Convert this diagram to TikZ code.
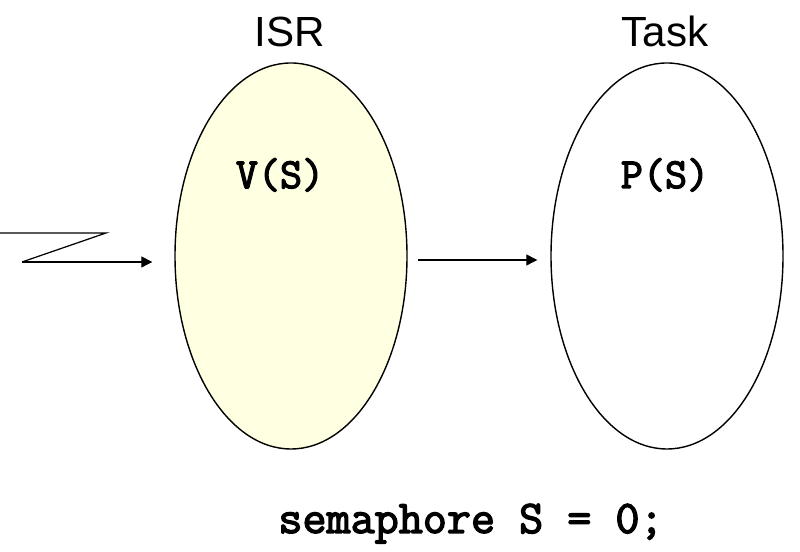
\documentclass[tikz,border=0pt]{standalone}
\usepackage{fontspec}
\setmainfont{Liberation Sans}
\newfontfamily\codefont[FakeBold=3]{Latin Modern Mono}
\usetikzlibrary{%
  arrows.meta,%
  shapes,%
  positioning,% wg. " of "
  calc
}
\definecolor{isryellow}{RGB}{255,255,226}

\begin{document}
\begin{tikzpicture}[
  >={Triangle[length=2.2mm,width=2.2mm]}, line width=0.7pt,
  proc/.style={ellipse, minimum width=4.64cm, minimum height=7.72cm, draw=black, line width=0.8pt, inner sep=0pt},
  title/.style={font=\fontsize{24}{28}\selectfont, anchor=base},
  code/.style={font=\codefont\fontsize{24.4}{28}\selectfont, anchor=base}
]
\useasboundingbox (0,0) rectangle (16,11.04);

\node[proc, fill=isryellow] (isr) at (5.82,5.92) {};
\node[proc] (task) at (13.34,5.92) {};

\node[title] (isrlabel) at (5.8,10.1) {ISR};
\node[title] (tasklabel) at (13.3,10.1) {Task};

\node[code] (vs) at (5.6,7.28) {V(S)};
\node[code] (ps) at (13.3,7.28) {P(S)};
\node[code, font=\codefont\fontsize{26.6}{31}\selectfont] (sem) at (9.42,0.38) {semaphore S = 0;};

% interrupt
\coordinate (z0) at (0,6.38);
\coordinate (z1) at (2.12,6.38);
\coordinate (z2) at (0.44,5.8);
\draw (z0) -- (z1) -- (z2);
\draw[->, shorten >=0.44cm] (z2) -- (z2 -| isr.west);

\draw[->, shorten <=0.2cm, shorten >=0.26cm] ($(isr.east)+(0,-0.08)$) -- ($(task.west)+(0,-0.08)$);
\end{tikzpicture}
\end{document}
